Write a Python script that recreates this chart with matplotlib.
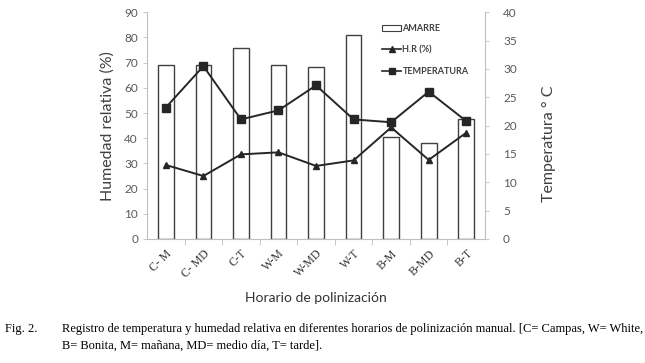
import matplotlib.pyplot as plt
from matplotlib.lines import Line2D
from matplotlib.patches import Patch

horarios = ["C- M", "C- MD", "C-T", "W-M", "W-MD", "W-T", "B-M", "B-MD", "B-T"]
amarre = [69.1, 69.1, 75.9, 69.1, 68.4, 81.1, 40.4, 38.2, 47.8]
humedad = [29.4, 25.0, 33.6, 34.4, 29.0, 31.2, 44.3, 31.4, 42.2]
temperatura = [23.2, 30.5, 21.1, 22.7, 27.1, 21.1, 20.6, 26.0, 20.8]

gris = "#595959"
eje = "#bfbfbf"
linea = "#262626"

fig = plt.figure(figsize=(6.45, 3.63), dpi=100)
ax = fig.add_axes([0.228, 0.3416, 0.524, 0.6245])
ax2 = ax.twinx()

x = list(range(len(horarios)))
ax.bar(x, amarre, width=0.42, facecolor="white", edgecolor="#404040", linewidth=1.0, zorder=2)
ax.plot(x, humedad, color=linea, marker="^", markersize=5, linewidth=1.4, zorder=3)
ax2.plot(x, temperatura, color=linea, marker="s", markersize=5.5, linewidth=1.4, zorder=3)

ax.set_xlim(-0.5, len(horarios) - 0.5)
ax.set_ylim(0, 90)
ax.set_yticks(range(0, 91, 10))
ax2.set_ylim(0, 40)
ax2.set_yticks(range(0, 41, 5))

for a in (ax, ax2):
    for s in a.spines.values():
        s.set_visible(False)
ax.spines["left"].set_visible(True)
ax.spines["bottom"].set_visible(True)
ax2.spines["right"].set_visible(True)
for s in (ax.spines["left"], ax.spines["bottom"], ax2.spines["right"]):
    s.set_color(eje)
    s.set_linewidth(0.8)

ax.tick_params(axis="y", colors=gris, labelsize=8.5, length=3, width=0.6, color=eje)
ax2.tick_params(axis="y", colors=gris, labelsize=8.5, length=3, width=0.6, color=eje, pad=10)
for t in ax.get_yticklabels() + ax2.get_yticklabels():
    t.set_family("Lato")

ax.set_xticks(x)
ax.set_xticklabels(horarios, rotation=45, ha="right", rotation_mode="anchor",
                   family="Liberation Serif", fontsize=8.5, color="#333333")
ax.tick_params(axis="x", length=0, pad=6)
ax.set_xticks([i + 0.5 for i in x[:-1]], minor=True)
ax.tick_params(axis="x", which="minor", length=4, width=0.6, color=eje)

ax.set_ylabel("Humedad relativa (%)", family="Lato", fontsize=11.5, color="#404040", labelpad=7)
ax2.set_ylabel("Temperatura ° C", family="Lato", fontsize=11.5, color="#404040")
ax2.yaxis.set_label_coords(1.168, 0.42)
ax.set_xlabel("Horario de polinización", family="Lato", fontsize=10, color="#333333", labelpad=9)

handles = [
    Patch(facecolor="white", edgecolor="#404040", linewidth=0.8),
    Line2D([], [], color=linea, marker="^", markersize=4, linewidth=1.2),
    Line2D([], [], color=linea, marker="s", markersize=4, linewidth=1.2),
]
ax2.legend(handles, ["AMARRE", "H.R (%)", "TEMPERATURA"], loc="upper left",
           bbox_to_anchor=(0.67, 0.985), frameon=False, handlelength=2.2,
           handletextpad=0.1, labelspacing=1.4,
           prop={"family": "Lato", "size": 6.5, "weight": "bold"})
for t in ax2.get_legend().get_texts():
    t.set_color("#404040")

fig.text(0.008, 0.085, "Fig. 2.", family="Liberation Serif", fontsize=9)
fig.text(0.096, 0.085, "Registro de temperatura y humedad relativa en diferentes horarios de polinización manual. [C= Campas, W= White,",
         family="Liberation Serif", fontsize=9)
fig.text(0.096, 0.04, "B= Bonita, M= mañana, MD= medio día, T= tarde].",
         family="Liberation Serif", fontsize=9)

fig.savefig("out.png", dpi=100)
